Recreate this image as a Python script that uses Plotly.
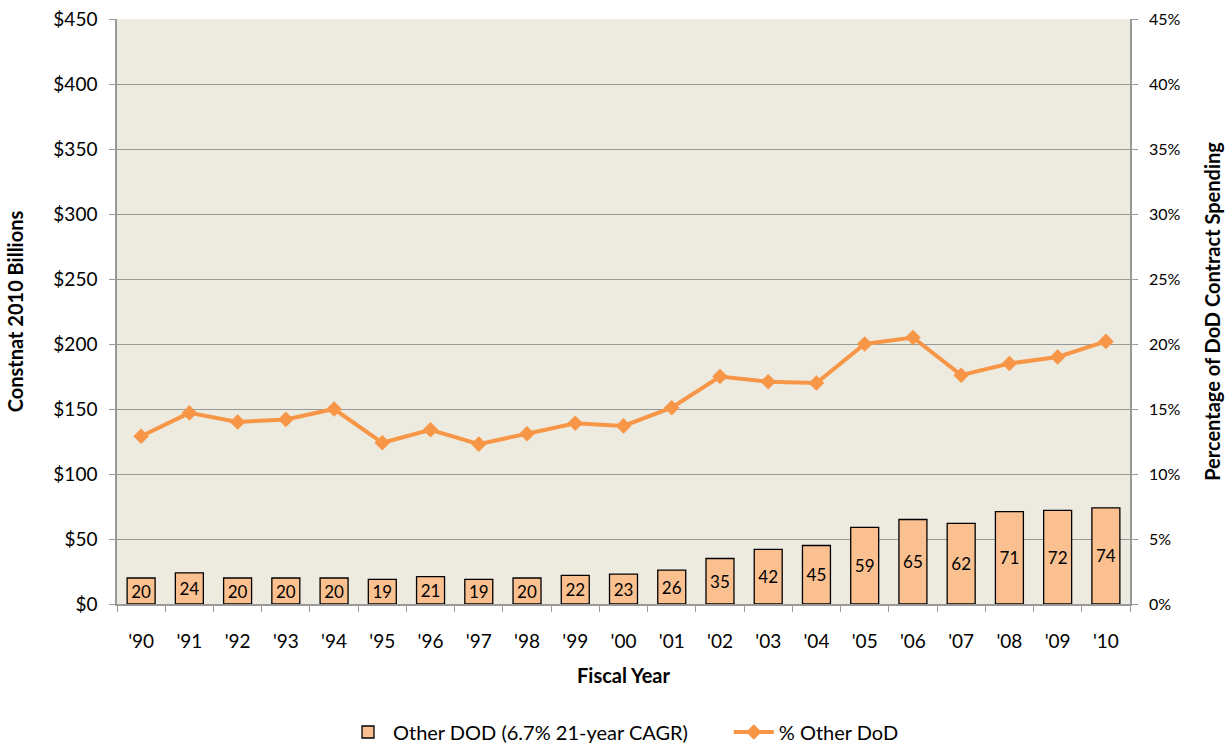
import plotly.graph_objects as go

years = ["'90", "'91", "'92", "'93", "'94", "'95", "'96", "'97", "'98", "'99", "'00",
         "'01", "'02", "'03", "'04", "'05", "'06", "'07", "'08", "'09", "'10"]
other_dod = [20, 24, 20, 20, 20, 19, 21, 19, 20, 22, 23, 26, 35, 42, 45, 59, 65, 62, 71, 72, 74]
pct_other = [12.9, 14.7, 14.0, 14.2, 15.0, 12.4, 13.4, 12.3, 13.1, 13.9, 13.7,
             15.1, 17.5, 17.1, 17.0, 20.0, 20.5, 17.6, 18.5, 19.0, 20.2]

FONT = "Lato"
orange = "#F79646"
barfill = "#FAC090"
axcol = "#999999"

fig = go.Figure()
fig.add_trace(go.Bar(
    x=years, y=other_dod, name="Other DOD (6.7% 21-year CAGR)" + "&nbsp;" * 7,
    marker=dict(color=barfill, line=dict(color="#000000", width=1.3)),
    text=[str(v) for v in other_dod], textposition="inside", insidetextanchor="middle",
    constraintext="none",
    textfont=dict(family=FONT, size=17, color="#000000"), textangle=0,
    width=0.58, yaxis="y",
))
fig.add_trace(go.Scatter(
    x=years, y=pct_other, name="% Other DoD", mode="lines+markers",
    line=dict(color=orange, width=4),
    marker=dict(symbol="diamond", size=12, color=orange),
    yaxis="y2",
))

fig.update_layout(
    width=1227, height=744,
    margin=dict(l=117, r=97, t=19, b=140),
    paper_bgcolor="white", plot_bgcolor="#EDEAE0",
    font=dict(family=FONT, size=19, color="#000000"),
    showlegend=True,
    legend=dict(orientation="h", x=0.5, xref="paper", xanchor="center",
                y=1 - 732 / 744, yref="container", yanchor="middle",
                font=dict(family=FONT, size=20), traceorder="normal", itemwidth=40,
                bgcolor="rgba(0,0,0,0)"),
    xaxis=dict(type="category", range=[-0.5, len(years) - 0.5], automargin=False,
               showline=True, linecolor=axcol, linewidth=1.5,
               ticks="outside", tickson="boundaries", ticklen=6, tickcolor=axcol,
               showgrid=False, ticklabelstandoff=19,
               title=dict(text="<b>Fiscal Year</b>", font=dict(family=FONT, size=20), standoff=18),
               tickfont=dict(family=FONT, size=19)),
    yaxis=dict(range=[0, 450], dtick=50, tickprefix="$", automargin=False,
               showline=True, linecolor=axcol,
               linewidth=1.5, ticks="outside", ticklen=6, tickcolor=axcol,
               showgrid=True, gridcolor=axcol, gridwidth=1, zeroline=False,
               ticklabelstandoff=8,
               title=dict(text="<b>Constnat 2010 Billions</b>", font=dict(family=FONT, size=20), standoff=24),
               tickfont=dict(family=FONT, size=19)),
    yaxis2=dict(range=[0, 45], dtick=5, ticksuffix="%", overlaying="y", side="right",
                automargin=False,
                showline=True, linecolor=axcol, linewidth=1.5, ticks="outside",
                ticklen=6, tickcolor=axcol, showgrid=False, zeroline=False,
                ticklabelstandoff=8,
                title=dict(text="<b>Percentage of DoD Contract Spending</b>", font=dict(family=FONT, size=20), standoff=26),
                tickfont=dict(family=FONT, size=16)),
    bargap=0.42,
)

fig.write_html("out.html", config={"displayModeBar": False},
               post_script="document.body.style.margin='0';")
